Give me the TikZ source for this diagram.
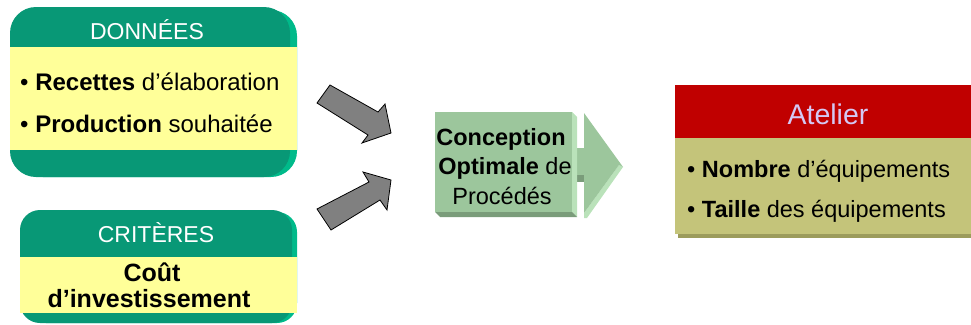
\documentclass[tikz,border=0pt]{standalone}
\usepackage{fontspec}
\setmainfont{Liberation Sans}
\definecolor{dgreen}{RGB}{8,152,118}
\definecolor{lgreen}{RGB}{0,186,138}
\definecolor{yell}{RGB}{255,255,153}
\definecolor{cgreen}{RGB}{156,198,156}
\definecolor{cgreenl}{RGB}{186,226,186}
\definecolor{cgreend}{RGB}{122,156,122}
\definecolor{hred}{RGB}{192,0,0}
\definecolor{olive}{RGB}{196,196,122}
\definecolor{oliveD}{RGB}{156,156,92}
\definecolor{lav}{RGB}{212,200,244}
\definecolor{agray}{RGB}{128,128,128}
\begin{document}
\begin{tikzpicture}[x=1pt,y=-1pt,
  body/.style={font=\fontsize{23.5}{28}\selectfont, inner sep=0pt, anchor=base west},
  bodyc/.style={font=\fontsize{23.5}{28}\selectfont, inner sep=0pt, anchor=base},
  ttl/.style={font=\fontsize{23}{28}\selectfont, text=white, inner sep=0pt, anchor=base},
  blockarrow/.style={fill=agray, draw=black, line width=0.8pt, line join=miter}]
\useasboundingbox (0,0) rectangle (971,324);

% DONNEES box
\fill[lgreen, rounded corners=26pt] (17,10) rectangle (297,177);
\fill[dgreen, rounded corners=26pt] (10,7) rectangle (290,177);
\fill[yell] (10,47) rectangle (297,150);
\node[ttl] (tdon) at (147,39) {DONNÉES};
\node[body, font=\fontsize{24}{28}\selectfont] (rec) at (20,90) {• \textbf{Recettes} d’élaboration};
\node[body, font=\fontsize{24}{28}\selectfont] (prod) at (20,132) {• \textbf{Production} souhaitée};

% CRITERES box
\fill[lgreen, rounded corners=20pt] (26,212) rectangle (297,323);
\fill[dgreen, rounded corners=20pt] (20,210) rectangle (292,323);
\fill[yell] (20,257) rectangle (297,313);
\node[ttl] (tcrit) at (156,242) {CRITÈRES};
\node[bodyc, font=\fontsize{25}{28}\selectfont] (cout) at (152,281) {\textbf{Coût}};
\node[bodyc, font=\fontsize{25}{28}\selectfont] (inv) at (149,307) {\textbf{d’investissement}};

% gray block arrows
\filldraw[blockarrow] (330,85) -- (378,112) -- (385,104) -- (391,133) -- (362,143) -- (368,135) -- (317,103) -- cycle;
\filldraw[blockarrow] (317,209) -- (369,182) -- (363,172) -- (391,180) -- (387,210) -- (380,200) -- (331,230) -- cycle;

% central process box with arrow
\fill[cgreen] (576,148) rectangle (586,182);
\fill[cgreend] (576,175) rectangle (586,182);
\fill[cgreenl] (584,213) -- (619,165) -- (623,167) -- (587,218) -- (584,218) -- cycle;
\fill[cgreen] (584,113) -- (623,167) -- (619,165) -- (584,213) -- cycle;
\fill[cgreenl] (572,112) -- (577,117) -- (577,217) -- (572,212) -- cycle;
\fill[cgreend] (435,212) -- (572,212) -- (577,217) -- (440,217) -- cycle;
\fill[cgreen] (435,112) rectangle (572,212);
\node[bodyc] (conc) at (501,145) {\textbf{Conception}};
\node[bodyc] (opt) at (505,174) {\textbf{Optimale} de};
\node[bodyc] (proc) at (502,204) {Procédés};

% Atelier box
\fill[oliveD] (678,141) rectangle (971,238);
\fill[hred] (675,85) rectangle (971,138);
\fill[olive] (675,138) rectangle (971,234);
\node[font=\fontsize{28.5}{32}\selectfont, text=lav, inner sep=0pt, anchor=base] (tat) at (828,124) {Atelier};
\node[body] (nomb) at (687,177) {• \textbf{Nombre} d’équipements};
\node[body] (taille) at (687,217) {• \textbf{Taille} des équipements};
\end{tikzpicture}
\end{document}
